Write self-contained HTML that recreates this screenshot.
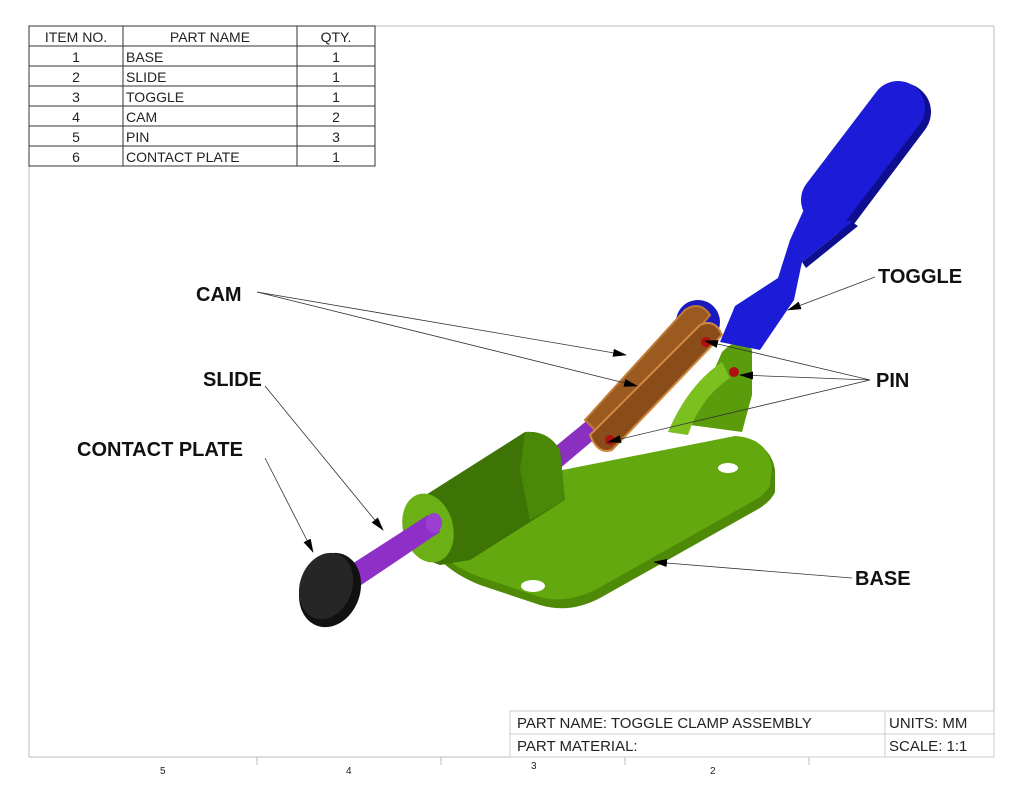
<!DOCTYPE html>
<html><head><meta charset="utf-8"><style>
html,body{margin:0;padding:0;background:#fff;}
svg{display:block;}
.t{font-family:"Liberation Sans",sans-serif;font-size:14px;fill:#222;}
.l{font-family:"Liberation Sans",sans-serif;font-size:20px;font-weight:bold;fill:#111;}
</style></head><body>
<svg width="1024" height="791" viewBox="0 0 1024 791" xmlns="http://www.w3.org/2000/svg">
<defs><marker id="a" markerWidth="14" markerHeight="8" refX="13" refY="4" orient="auto" markerUnits="userSpaceOnUse"><path d="M0,0 L14,4 L0,8 z" fill="#000"/></marker></defs>
<g stroke="#bbb" stroke-width="1" fill="none">
<line x1="375" y1="26" x2="994" y2="26"/>
<line x1="994" y1="26" x2="994" y2="757"/>
<line x1="29" y1="166" x2="29" y2="757"/>
<line x1="29" y1="757" x2="994" y2="757"/>
<line x1="257" y1="757" x2="257" y2="765"/><line x1="441" y1="757" x2="441" y2="765"/>
<line x1="625" y1="757" x2="625" y2="765"/><line x1="809" y1="757" x2="809" y2="765"/>
</g>
<text x="160" y="774" class="t" style="font-size:10px">5</text>
<text x="346" y="774" class="t" style="font-size:10px">4</text>
<text x="531" y="769" class="t" style="font-size:10px">3</text>
<text x="710" y="774" class="t" style="font-size:10px">2</text>
<g stroke="#333" stroke-width="1" fill="none">
<rect x="29" y="26" width="346" height="140"/>
<line x1="123" y1="26" x2="123" y2="166"/><line x1="297" y1="26" x2="297" y2="166"/>
<line x1="29" y1="46" x2="375" y2="46"/><line x1="29" y1="66" x2="375" y2="66"/>
<line x1="29" y1="86" x2="375" y2="86"/><line x1="29" y1="106" x2="375" y2="106"/>
<line x1="29" y1="126" x2="375" y2="126"/><line x1="29" y1="146" x2="375" y2="146"/>
</g>
<g class="t">
<text x="76" y="42" text-anchor="middle">ITEM NO.</text>
<text x="210" y="42" text-anchor="middle">PART NAME</text>
<text x="336" y="42" text-anchor="middle">QTY.</text>
<text x="76" y="62" text-anchor="middle">1</text><text x="126" y="62">BASE</text><text x="336" y="62" text-anchor="middle">1</text>
<text x="76" y="82" text-anchor="middle">2</text><text x="126" y="82">SLIDE</text><text x="336" y="82" text-anchor="middle">1</text>
<text x="76" y="102" text-anchor="middle">3</text><text x="126" y="102">TOGGLE</text><text x="336" y="102" text-anchor="middle">1</text>
<text x="76" y="122" text-anchor="middle">4</text><text x="126" y="122">CAM</text><text x="336" y="122" text-anchor="middle">2</text>
<text x="76" y="142" text-anchor="middle">5</text><text x="126" y="142">PIN</text><text x="336" y="142" text-anchor="middle">3</text>
<text x="76" y="162" text-anchor="middle">6</text><text x="126" y="162">CONTACT PLATE</text><text x="336" y="162" text-anchor="middle">1</text>
</g>
<g stroke="#ccc" stroke-width="1" fill="none">
<rect x="510" y="711" width="484" height="46"/>
<line x1="510" y1="734" x2="994" y2="734"/><line x1="885" y1="711" x2="885" y2="757"/>
</g>
<text x="517" y="728" class="t" style="font-size:15px">PART NAME:  TOGGLE CLAMP ASSEMBLY</text>
<text x="517" y="751" class="t" style="font-size:15px">PART MATERIAL:</text>
<text x="889" y="728" class="t" style="font-size:15px">UNITS: MM</text>
<text x="889" y="751" class="t" style="font-size:15px">SCALE: 1:1</text>

<path d="M410,505 L735,440 Q770,440 775,470 L775,492 Q772,500 760,508 L600,598 Q570,614 540,605 L480,585 Q455,575 440,560 L410,540 Z" fill="#4e8a08"/>
<path d="M410,500 L735,436 Q768,438 772,468 L770,485 Q765,495 755,500 L595,590 Q565,604 540,597 L480,577 Q455,568 440,553 L410,530 Z" fill="#62a80e"/>
<ellipse cx="533" cy="586" rx="12" ry="6" fill="#fff"/>
<ellipse cx="728" cy="468" rx="10" ry="5" fill="#fff"/>
<path d="M690,425 L722,352 Q742,332 752,350 L752,395 L742,432 Z" fill="#5a9c0c"/>
<path d="M722,362 Q688,385 668,432 L688,435 Q700,398 730,378 Z" fill="#7cc020"/>
<circle cx="734" cy="372" r="5" fill="#b01010"/>
<path d="M545,455 L590,418 L603,432 L558,470 Z" fill="#8a2fc0"/>
<path d="M410,505 L525,432 Q548,430 560,450 L565,500 L470,560 L440,565 Q410,555 405,535 Z" fill="#3e7406"/>
<path d="M525,432 Q548,430 560,450 L565,500 L530,520 L520,470 Z" fill="#4a8808"/>
<ellipse cx="428" cy="528" rx="25" ry="35" transform="rotate(-15 428 528)" fill="#6bb015"/>
<path d="M330,578 L428,515 L440,532 L342,598 Z" fill="#8e30c8"/>
<ellipse cx="434" cy="523" rx="8" ry="10" fill="#9a40d0"/>
<ellipse cx="330" cy="590" rx="30" ry="38" transform="rotate(20 330 590)" fill="#111"/>
<ellipse cx="326" cy="586" rx="26" ry="34" transform="rotate(20 326 586)" fill="#262626"/>
<!-- toggle -->
<line x1="902" y1="112" x2="832" y2="205" stroke="#0e0e90" stroke-width="58" stroke-linecap="round"/>
<line x1="898" y1="108" x2="828" y2="200" stroke="#1c1cd8" stroke-width="54" stroke-linecap="round"/>
<path d="M806,205 L852,222 L802,262 L794,300 L760,350 L720,342 L735,306 L778,278 L790,240 Z" fill="#1c1cd8"/>
<path d="M852,222 L858,226 L806,268 L802,262 Z" fill="#0e0e90"/>
<circle cx="698" cy="322" r="22" fill="#1a1ac0"/>
<path d="M585,420 L685,310 Q700,300 710,315 L605,440 Z" fill="#9a5a20" stroke="#c07a36" stroke-width="2"/>
<path d="M590,435 L700,325 Q715,318 722,335 L612,450 Q598,455 590,435 Z" fill="#8a4c18" stroke="#d08a40" stroke-width="2"/>
<circle cx="706" cy="342" r="5" fill="#b01010"/>
<circle cx="610" cy="440" r="5" fill="#b01010"/>
<g stroke="#333" stroke-width="0.8" fill="none" marker-end="url(#a)">
<line x1="257" y1="292" x2="626" y2="355"/>
<line x1="257" y1="292" x2="637" y2="386"/>
<line x1="265" y1="386" x2="383" y2="530"/>
<line x1="265" y1="458" x2="313" y2="552"/>
<line x1="875" y1="277" x2="788" y2="310"/>
<line x1="870" y1="380" x2="705" y2="341"/>
<line x1="870" y1="380" x2="740" y2="375"/>
<line x1="870" y1="380" x2="608" y2="442"/>
<line x1="852" y1="578" x2="654" y2="562"/>
</g>
<text class="l" x="196" y="301">CAM</text>
<text class="l" x="203" y="386">SLIDE</text>
<text class="l" x="77" y="456">CONTACT PLATE</text>
<text class="l" x="878" y="283">TOGGLE</text>
<text class="l" x="876" y="387">PIN</text>
<text class="l" x="855" y="585">BASE</text>
</svg>
</body></html>
